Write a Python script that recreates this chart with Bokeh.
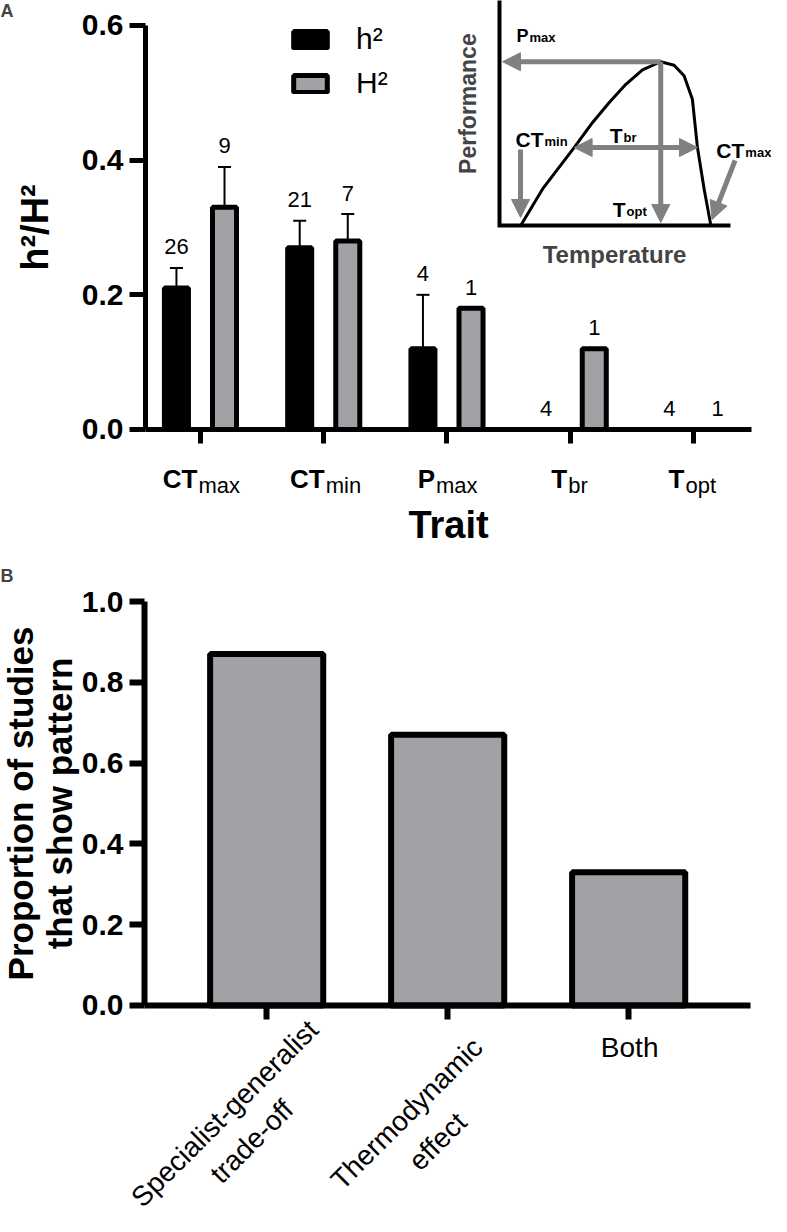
import math
from bokeh.plotting import figure
from bokeh.models import (ColumnDataSource, Range1d, FixedTicker, PrintfTickFormatter,
                          Label, LabelSet, Whisker, TeeHead, Arrow, NormalHead,
                          Legend, LegendItem)
from bokeh.core.properties import value
from bokeh.layouts import column
from bokeh.embed import file_html
from bokeh.resources import INLINE

# ---------------- data: panel A ----------------
trait_main = ["CT", "CT", "P", "T", "T"]
trait_sub = ["max", "min", "max", "br", "opt"]
h2 = [0.21, 0.27, 0.12, 0.0, 0.0]
h2_upper = [0.24, 0.31, 0.20, None, None]
h2_n = [26, 21, 4, 4, 4]
H2 = [0.33, 0.28, 0.18, 0.12, 0.0]
H2_upper = [0.39, 0.32, None, None, None]
H2_n = [9, 7, 1, 1, 1]
yticks_A = [0.0, 0.2, 0.4, 0.6]

# inset schematic (thermal performance curve, arbitrary units)
inset_axis_T = [0, 0, 10]
inset_axis_P = [10, 0, 0]
curve_T = [0.92, 1.86, 3.23, 4.03, 4.75, 5.47, 6.19, 6.98, 7.56, 7.99, 8.35, 8.57, 8.86, 9.15]
curve_P = [0.00, 1.58, 3.39, 4.48, 5.35, 6.14, 6.77, 7.12, 6.97, 6.51, 5.49, 3.39, 1.58, 0.00]
arrow_T0 = [6.98, 6.98, 3.23, 0.91, 10.20]
arrow_P0 = [7.12, 7.12, 3.39, 3.30, 2.83]
arrow_T1 = [0.13, 6.98, 8.57, 0.91, 9.20]
arrow_P1 = [7.12, 0.13, 3.39, 0.35, 0.26]
arrow_both = [False, False, True, False, False]
inset_lab_main = ["P", "CT", "T", "T", "CT"]
inset_lab_sub = ["max", "min", "br", "opt", "max"]
inset_lab_T = [1.255, 1.905, 5.325, 5.455, 10.60]
inset_lab_P = [8.26, 3.74, 3.91, 0.70, 3.26]

# ---------------- data: panel B ----------------
pattern_lines = [["Specialist-generalist", "trade-off"], ["Thermodynamic", "effect"], ["Both"]]
proportion = [0.87, 0.67, 0.33]
yticks_B = [0.0, 0.2, 0.4, 0.6, 0.8, 1.0]

# ---------------- styles ----------------
FONT = "Liberation Sans"
GRAY = "#a2a2a6"
AGRAY = "#808080"


def style_axis(ax, lw, tick_out):
    ax.axis_line_width = lw
    ax.axis_line_color = "black"
    ax.major_tick_line_width = lw
    ax.major_tick_out = tick_out
    ax.major_tick_in = 0
    ax.minor_tick_out = 0
    ax.minor_tick_in = 0
    ax.minor_tick_line_color = None
    ax.major_label_text_font = FONT
    ax.major_label_text_font_style = "bold"
    ax.major_label_text_font_size = "30px"
    ax.major_label_text_color = "black"
    ax.axis_label_text_font = FONT
    ax.axis_label_text_font_style = "bold"
    ax.axis_label_text_font_size = "38px"
    ax.axis_label_text_color = "black"


def sub_label(fig, x, y, main, sub, msize, ssize, mstyle, sstyle, dx, dy_main, dy_sub, **rng):
    fig.add_layout(Label(x=x, y=y, x_offset=dx, y_offset=dy_main, text=main,
                         text_align="right", text_baseline="alphabetic",
                         text_font=FONT, text_font_size=msize, text_font_style=mstyle,
                         text_color="black", **rng))
    fig.add_layout(Label(x=x, y=y, x_offset=dx + 1, y_offset=dy_sub, text=sub,
                         text_align="left", text_baseline="alphabetic",
                         text_font=FONT, text_font_size=ssize, text_font_style=sstyle,
                         text_color="black", **rng))


# ================= panel A =================
# the frame fills the canvas; axes sit at fixed locations inside it
xA = list(range(1, len(h2) + 1))
off = 0.195
xA_lo, xA_hi = 0.554, 5.471
pA = figure(width=771, height=551, output_backend="svg", toolbar_location=None,
            x_range=Range1d(-0.6225, 5.633), y_range=Range1d(-0.1812, 0.6371),
            min_border=0, min_border_left=0, min_border_right=0,
            min_border_top=0, min_border_bottom=0)
pA.outline_line_color = None
pA.xgrid.visible = False
pA.ygrid.visible = False

xa = pA.xaxis[0]
style_axis(xa, 5, 14)
xa.ticker = FixedTicker(ticks=xA)
xa.major_label_text_color = None
xa.major_label_text_font_size = "10px"
xa.major_label_standoff = 0
xa.fixed_location = 0
xa.bounds = (xA_lo, xA_hi)
xa.axis_label = "Trait"
xa.axis_label_standoff = 60

ya = pA.yaxis[0]
style_axis(ya, 5, 16)
ya.ticker = FixedTicker(ticks=yticks_A)
ya.formatter = PrintfTickFormatter(format="%.1f")
ya.fixed_location = xA_lo
ya.bounds = (0, 0.6)
ya.major_label_standoff = 6
ya.axis_label = "h²/H²"
ya.axis_label_standoff = 23

src_h = ColumnDataSource(dict(x=[i - off for i in xA], top=h2))
src_H = ColumnDataSource(dict(x=[i + off for i in xA], top=H2))
r_h = pA.vbar(x="x", top="top", width=0.195, source=src_h,
              fill_color="black", line_color="black", line_width=5)
r_H = pA.vbar(x="x", top="top", width=0.195, source=src_H,
              fill_color=GRAY, line_color="black", line_width=5)

ex, elo, eup = [], [], []
for i, v, u in zip(xA, h2, h2_upper):
    if u is not None:
        ex.append(i - off); elo.append(v); eup.append(u)
for i, v, u in zip(xA, H2, H2_upper):
    if u is not None:
        ex.append(i + off); elo.append(v); eup.append(u)
pA.add_layout(Whisker(source=ColumnDataSource(dict(base=ex, lower=elo, upper=eup)),
                      base="base", lower="lower", upper="upper", lower_head=None,
                      upper_head=TeeHead(size=13, line_width=2, line_color="black"),
                      line_width=2, line_color="black"))

lab_x = [i - off for i in xA] + [i + off for i in xA]
lab_y = [u if u is not None else v for v, u in zip(h2, h2_upper)] + \
        [u if u is not None else v for v, u in zip(H2, H2_upper)]
lab_t = [str(n) for n in h2_n + H2_n]
pA.add_layout(LabelSet(x="x", y="y", text="t",
                       source=ColumnDataSource(dict(x=lab_x, y=lab_y, t=lab_t)),
                       y_offset=21, text_align="center", text_baseline="middle",
                       text_font=value(FONT), text_font_size=value("22px"), text_color="black"))

# x tick labels with subscripts
split_dx = [-3, 1, -12, -3, -9]
for i, m, s, dx in zip(xA, trait_main, trait_sub, split_dx):
    sub_label(pA, i, 0, m, s, "26px", "22px", "bold", "normal", dx, -50, -56)

legend = Legend(items=[LegendItem(label=value("h²"), renderers=[r_h]),
                       LegendItem(label=value("H²"), renderers=[r_H])],
                location=(289, 451), orientation="vertical",
                glyph_width=42, glyph_height=21, label_standoff=25, spacing=10,
                padding=0, margin=0, border_line_color=None, background_fill_alpha=0,
                label_text_font=FONT, label_text_font_size="30px", label_height=21,
                label_text_color="black")
pA.add_layout(legend)

# inset schematic, drawn on its own ranges
pA.extra_x_ranges = {"ix": Range1d(-21.602, 11.775)}
pA.extra_y_ranges = {"iy": Range1d(-14.174, 9.783)}
rng = dict(x_range_name="ix", y_range_name="iy")
pA.line(x=inset_axis_T, y=inset_axis_P, line_width=4, line_color="black", line_join="miter", **rng)
pA.line(x=curve_T, y=curve_P, line_width=3, line_color="black", **rng)
for x0, y0, x1, y1, both in zip(arrow_T0, arrow_P0, arrow_T1, arrow_P1, arrow_both):
    pA.add_layout(Arrow(x_start=x0, y_start=y0, x_end=x1, y_end=y1,
                        line_color=AGRAY, line_width=5,
                        end=NormalHead(size=18, fill_color=AGRAY, line_color=AGRAY, line_width=1),
                        start=(NormalHead(size=18, fill_color=AGRAY, line_color=AGRAY, line_width=1)
                               if both else None), **rng))
for k, (m, s, t, pp) in enumerate(zip(inset_lab_main, inset_lab_sub, inset_lab_T, inset_lab_P)):
    msize = "18px" if k == 0 else "21px"
    sub_label(pA, t, pp, m, s, msize, "13px", "bold", "bold", 0, 0, -2, **rng)
pA.add_layout(Label(x=-1.385, y=5.30, text="Performance", angle=math.pi / 2,
                    text_align="center", text_baseline="middle", text_font=FONT,
                    text_font_size="23px", text_font_style="bold", **rng))
pA.add_layout(Label(x=4.98, y=-1.26, text="Temperature",
                    text_align="center", text_baseline="middle", text_font=FONT,
                    text_font_size="24px", text_font_style="bold", **rng))
pA.add_layout(Label(x=-0.6225, y=0.6371, text="A", text_align="left",
                    text_baseline="top", text_font=FONT, text_font_size="18px",
                    text_font_style="bold"))

# ================= panel B =================
xB = list(range(1, len(proportion) + 1))
xB_lo, xB_hi = 0.325, 3.675
pB = figure(width=771, height=665, output_backend="svg", toolbar_location=None,
            x_range=Range1d(-0.4706, 3.7891), y_range=Range1d(-0.5223, 1.1238),
            min_border=0, min_border_left=0, min_border_right=0,
            min_border_top=0, min_border_bottom=0)
pB.outline_line_color = None
pB.xgrid.visible = False
pB.ygrid.visible = False

xb = pB.xaxis[0]
style_axis(xb, 6, 14)
xb.ticker = FixedTicker(ticks=xB)
xb.major_label_text_color = None
xb.major_label_text_font_size = "10px"
xb.fixed_location = 0
xb.bounds = (xB_lo, xB_hi)

yb = pB.yaxis[0]
style_axis(yb, 6, 15)
yb.ticker = FixedTicker(ticks=yticks_B)
yb.formatter = PrintfTickFormatter(format="%.1f")
yb.fixed_location = xB_lo
yb.bounds = (0, 1.0)
yb.major_label_standoff = 6
yb.axis_label = "Proportion of studies\nthat show pattern"
yb.axis_label_standoff = 0
yb.axis_label_text_font_size = "35px"
yb.axis_label_text_line_height = 1.0

pB.vbar(x=xB, top=proportion, width=0.625, fill_color=GRAY, line_color="black", line_width=6)

# category labels (first two rotated, last horizontal)
lab_angle = [45, 45, 0]
lab_offsets = [[(-42, 108), (-15, 136)], [(-41, 108), (-10, 136)], [(1, 42)]]
for i, lines, ang, offs in zip(xB, pattern_lines, lab_angle, lab_offsets):
    for txt, (dx, dy) in zip(lines, offs):
        pB.add_layout(Label(x=i, y=0, x_offset=dx, y_offset=-dy, text=txt,
                            angle=math.radians(ang), text_align="center",
                            text_baseline="middle" if ang else "alphabetic",
                            text_font=FONT, text_font_size="28px", text_color="black"))
pB.add_layout(Label(x=-0.4706, y=1.0, y_offset=36, text="B", text_align="left",
                    text_baseline="top", text_font=FONT, text_font_size="18px",
                    text_font_style="bold"))

layout = column(pA, pB)
open("out.html", "w").write(file_html(layout, INLINE))
